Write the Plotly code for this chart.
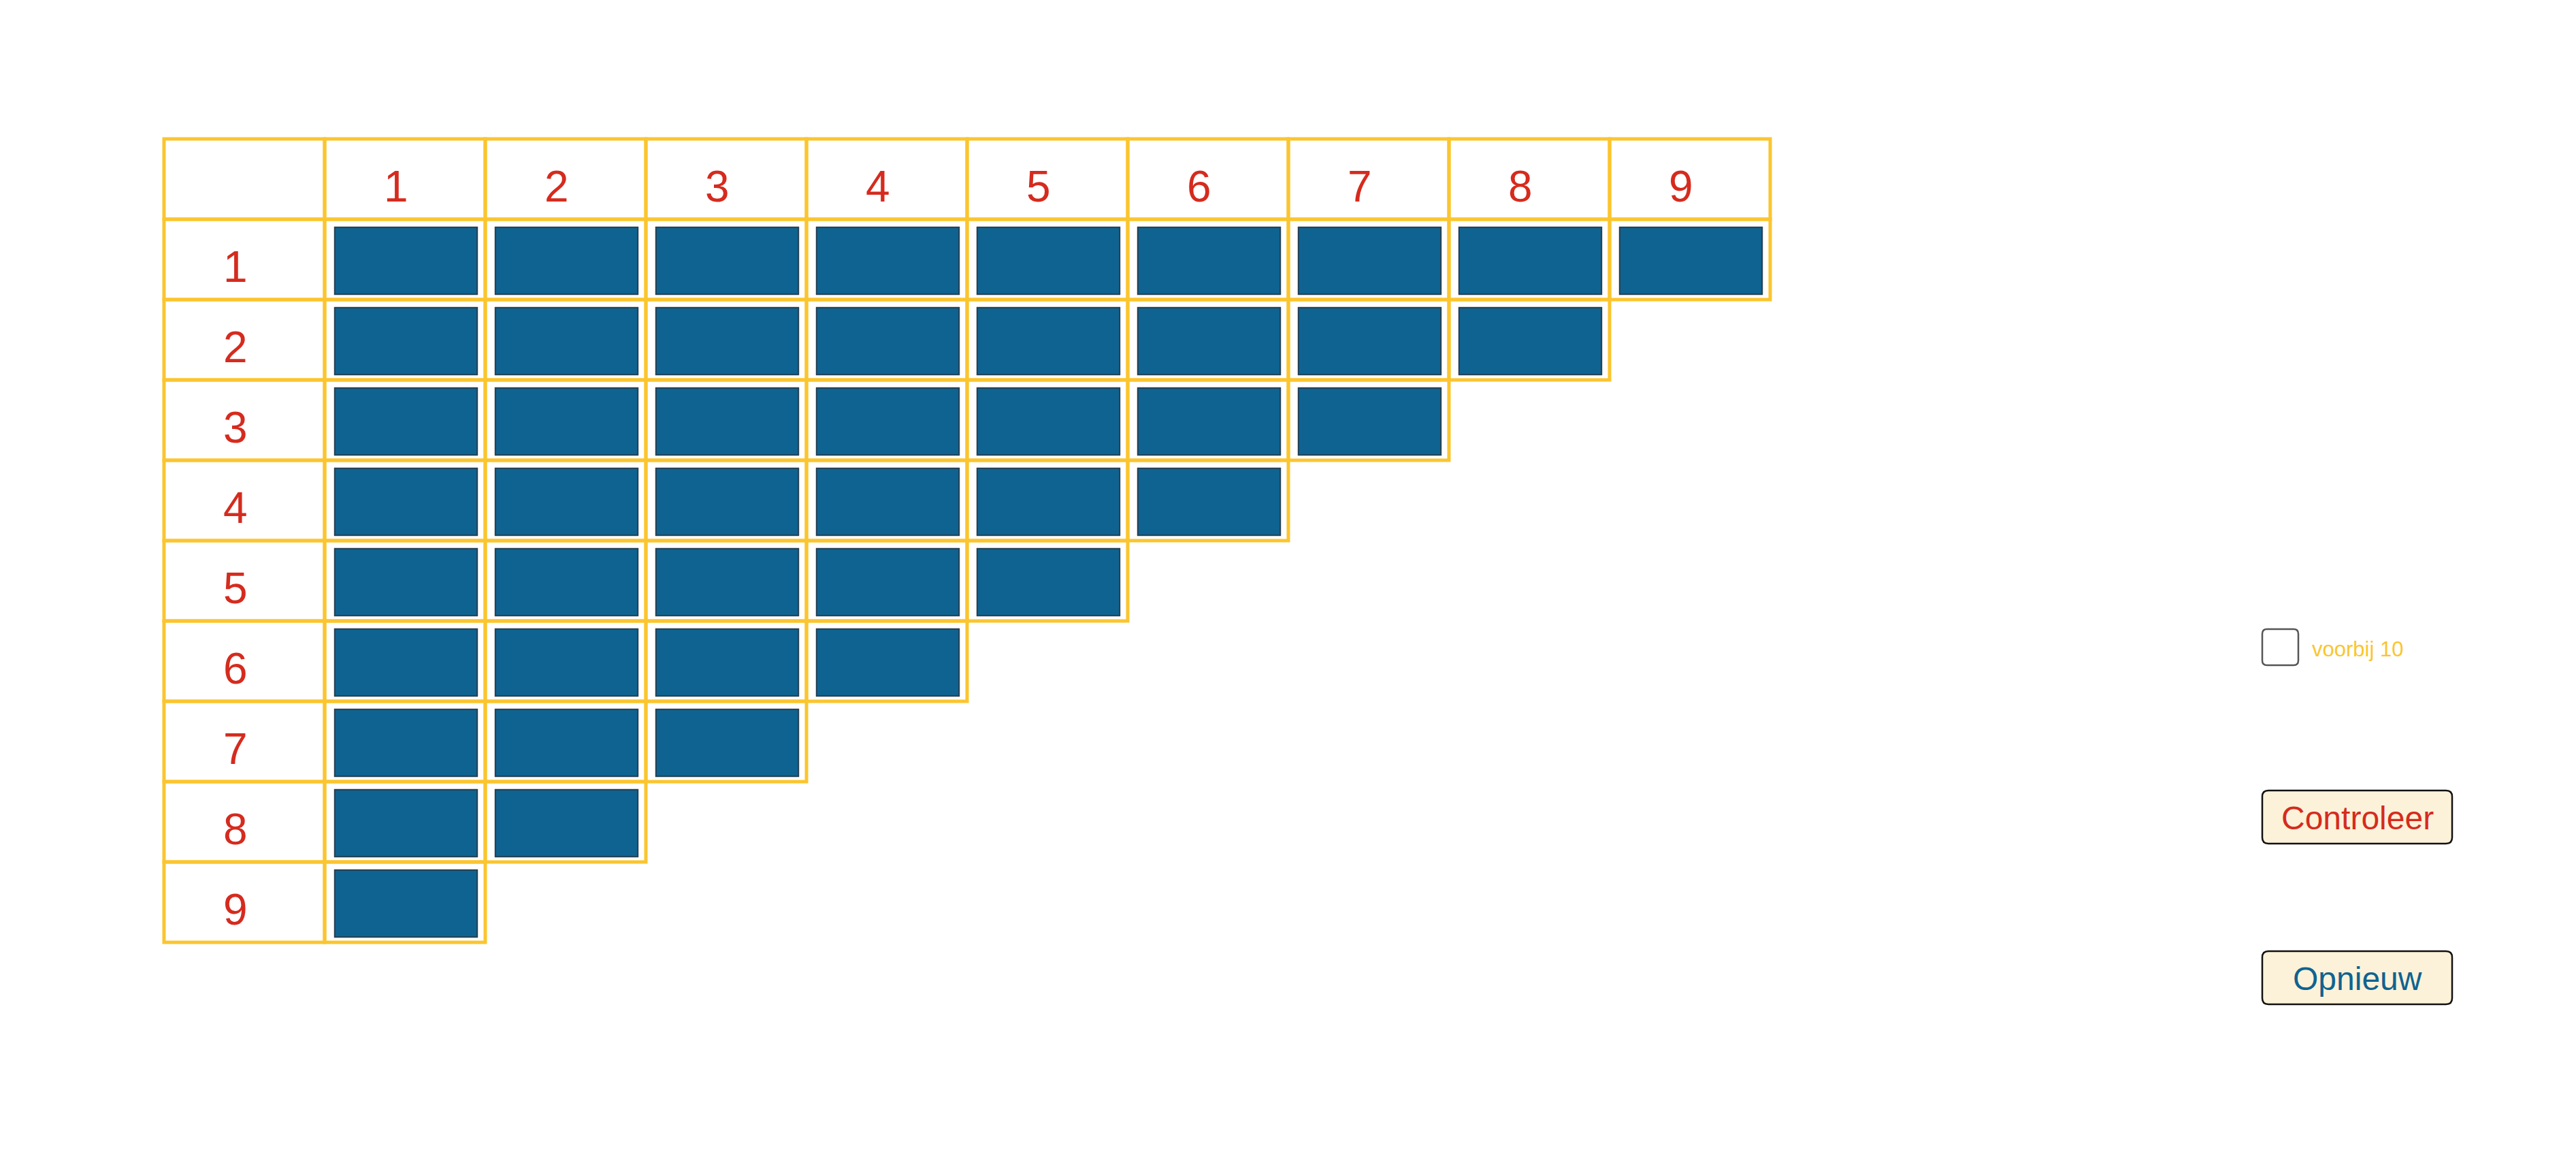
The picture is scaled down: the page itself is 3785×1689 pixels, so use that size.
"""Tafel-rooster: 9x9 trap met blauwe vakjes, checkbox en twee knoppen."""
import plotly.graph_objects as go

# data
col_labels = ["1", "2", "3", "4", "5", "6", "7", "8", "9"]
row_labels = ["1", "2", "3", "4", "5", "6", "7", "8", "9"]
cells_per_row = [9, 8, 7, 6, 5, 4, 3, 2, 1]
checkbox_label = "voorbij 10"
button_labels = ["Controleer", "Opnieuw"]

# look
W, H = 3785, 1689
PAD = 8                    # default body margin of the html page
X0, Y0 = 241, 204          # top-left of the grid
CW, RH = 236, 118          # cell size
YELLOW = "#FBC52F"
RED = "#D52B1E"
BLUE = "#0F6390"
FONT = "Liberation Sans, Arial, sans-serif"


def rrect(x0, y0, x1, y1, r):
    return (f"M{x0 + r},{y0} L{x1 - r},{y0} Q{x1},{y0} {x1},{y0 + r} "
            f"L{x1},{y1 - r} Q{x1},{y1} {x1 - r},{y1} L{x0 + r},{y1} "
            f"Q{x0},{y1} {x0},{y1 - r} L{x0},{y0 + r} Q{x0},{y0} {x0 + r},{y0} Z")


fig = go.Figure()
shapes, notes = [], []


def cell_border(c, r):
    shapes.append(dict(type="rect", xref="x", yref="y",
                       x0=X0 + c * CW, x1=X0 + (c + 1) * CW,
                       y0=Y0 + r * RH, y1=Y0 + (r + 1) * RH,
                       line=dict(color=YELLOW, width=5), layer="below"))


def label(text, c, r):
    notes.append(dict(x=X0 + (c + 0.5) * CW, y=Y0 + (r + 0.5) * RH,
                      xref="x", yref="y", text=text, showarrow=False,
                      xshift=-13, yshift=-11,
                      font=dict(family=FONT, size=64, color=RED)))


# header row
cell_border(0, 0)
for i, t in enumerate(col_labels):
    cell_border(i + 1, 0)
    label(t, i + 1, 0)

# body rows
for r, (t, n) in enumerate(zip(row_labels, cells_per_row), start=1):
    cell_border(0, r)
    label(t, 0, r)
    for c in range(1, n + 1):
        cell_border(c, r)
        left, top = X0 + c * CW, Y0 + r * RH
        shapes.append(dict(type="rect", xref="x", yref="y",
                           x0=left + 14, x1=left + 225, y0=top + 11, y1=top + 111,
                           line=dict(color="#a8a8a8", width=1), fillcolor="#a8a8a8"))
        shapes.append(dict(type="rect", xref="x", yref="y",
                           x0=left + 15, x1=left + 224, y0=top + 12, y1=top + 110,
                           line=dict(color="#22435a", width=2), fillcolor=BLUE))

# checkbox
shapes.append(dict(type="path", xref="x", yref="y",
                   path=rrect(3324, 924, 3377, 977, 7),
                   line=dict(color="#555555", width=2.5), fillcolor="white"))
notes.append(dict(x=3395, y=953, xref="x", yref="y", text=checkbox_label,
                  showarrow=False, xanchor="left",
                  font=dict(family=FONT, size=31, color=YELLOW)))

# buttons
for (t, col), top in zip(zip(button_labels, [RED, BLUE]), [1161, 1397]):
    shapes.append(dict(type="path", xref="x", yref="y",
                       path=rrect(3324, top, 3603, top + 78, 9),
                       line=dict(color="#111111", width=2.5), fillcolor="#FCF2D9"))
    notes.append(dict(x=3463.5, y=top + 40, xref="x", yref="y", text=t,
                      showarrow=False,
                      font=dict(family=FONT, size=48, color=col)))

fig.update_layout(width=W, height=H, margin=dict(l=0, r=0, t=0, b=0),
                  paper_bgcolor="white", plot_bgcolor="white",
                  shapes=shapes, annotations=notes, showlegend=False)
fig.update_xaxes(range=[PAD, W + PAD], visible=False, fixedrange=True)
fig.update_yaxes(range=[H + PAD, PAD], visible=False, fixedrange=True)

fig.write_html("out.html", config={"displayModeBar": False})
